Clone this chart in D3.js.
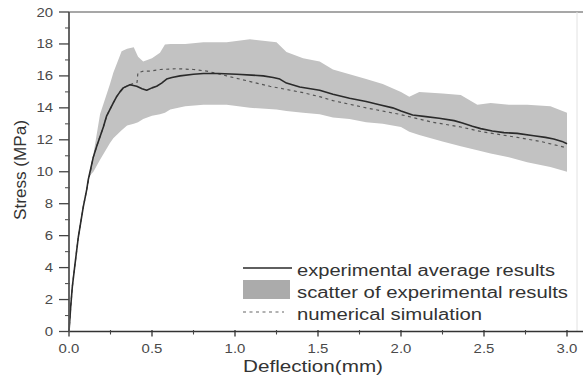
<!DOCTYPE html>
<html>
<head>
<meta charset="utf-8">
<script src="https://cdn.jsdelivr.net/npm/d3@7"></script>
<style>
html,body{margin:0;padding:0;background:#fff;}
svg{display:block;font-family:Arial,"Liberation Sans",sans-serif;}
</style>
</head>
<body>
<svg id="chart" width="583" height="387"></svg>
<script>
// ---- data ----
const avgDeflection = [0,0.01,0.02,0.036,0.056,0.086,0.107,0.116,0.146,0.167,0.207,0.227,0.266,0.287,0.307,0.327,0.367,0.408,0.44,0.468,0.50,0.528,0.558,0.588,0.62,0.669,0.75,0.81,0.9,1.01,1.1,1.17,1.23,1.27,1.31,1.39,1.51,1.59,1.69,1.79,1.87,1.95,2.0,2.07,2.15,2.23,2.32,2.37,2.43,2.48,2.55,2.62,2.70,2.80,2.87,2.92,2.97,3.0];
const avgStress     = [0,1.5,2.8,4.2,5.9,7.8,8.9,9.5,10.9,11.6,12.8,13.5,14.3,14.7,15.0,15.25,15.45,15.35,15.2,15.1,15.25,15.35,15.55,15.8,15.9,16.0,16.1,16.15,16.15,16.1,16.05,16.0,15.9,15.8,15.55,15.3,15.1,14.85,14.6,14.4,14.2,14.0,13.8,13.55,13.45,13.35,13.2,13.05,12.85,12.7,12.55,12.45,12.4,12.25,12.15,12.05,11.9,11.75];

const simDeflection = [0,0.01,0.02,0.036,0.056,0.086,0.107,0.146,0.167,0.207,0.227,0.266,0.287,0.307,0.327,0.367,0.41,0.415,0.45,0.49,0.55,0.65,0.75,0.83,0.95,1.03,1.11,1.21,1.31,1.41,1.51,1.59,1.79,1.99,2.19,2.36,2.49,2.70,2.84,3.0];
const simStress     = [0,1.5,2.8,4.2,5.9,7.8,8.9,10.9,11.6,12.8,13.5,14.3,14.7,15.0,15.25,15.45,15.6,16.2,16.3,16.3,16.4,16.45,16.4,16.3,16.0,15.8,15.6,15.35,15.15,14.95,14.7,14.45,14.0,13.6,13.1,12.8,12.5,12.15,11.9,11.5];

const bandDeflection = [0.12,0.147,0.187,0.247,0.267,0.317,0.35,0.39,0.416,0.447,0.50,0.548,0.578,0.61,0.70,0.81,0.95,1.09,1.25,1.31,1.41,1.51,1.59,1.69,1.79,1.89,2.0,2.05,2.11,2.25,2.36,2.46,2.54,2.65,2.76,2.90,3.0];
const bandUpper      = [9.8,11.1,13.6,15.5,16.2,17.55,17.7,17.8,17.2,16.9,17.1,17.45,17.96,18.0,18.0,18.1,18.1,18.3,18.1,17.5,17.1,16.9,16.4,16.1,15.8,15.5,15.0,14.7,15.0,14.9,14.8,14.2,14.3,14.2,14.2,14.1,13.7];
const bandLower      = [9.7,10.0,10.75,11.8,12.1,12.6,12.9,13.0,13.1,13.3,13.5,13.6,13.7,13.9,14.1,14.2,14.2,14.0,13.9,13.8,13.7,13.6,13.4,13.3,13.1,13.0,12.8,12.5,12.3,11.9,11.6,11.35,11.15,10.9,10.6,10.3,10.0];

const xTicks = [0,0.5,1.0,1.5,2.0,2.5,3.0];
const xTickLabels = ["0.0","0.5","1.0","1.5","2.0","2.5","3.0"];
const xMinorTicks = [0.25,0.75,1.25,1.75,2.25,2.75];
const yTicks = [0,2,4,6,8,10,12,14,16,18,20];
const yMinorTicks = [1,3,5,7,9,11,13,15,17,19];
const legendLabels = ["experimental average results","scatter of experimental results","numerical simulation"];
const xTitle = "Deflection(mm)";
const yTitle = "Stress (MPa)";

// ---- layout ----
const svg = d3.select("#chart");
const x = d3.scaleLinear().domain([0,3]).range([69,567]);
const y = d3.scaleLinear().domain([0,20]).range([331.5,12]);

// frame
svg.append("line").attr("x1",69).attr("x2",583).attr("y1",12).attr("y2",12)
  .attr("stroke","#8a8a8a").attr("stroke-width",1.6);
svg.append("line").attr("x1",577).attr("x2",577).attr("y1",12).attr("y2",331.5)
  .attr("stroke","#e2e2e2").attr("stroke-width",1);

// band
const band = bandDeflection.map((d,i)=>({x:d,u:bandUpper[i],l:bandLower[i]}));
svg.append("path").datum(band)
  .attr("fill","#c2c2c2")
  .attr("d", d3.area().x(d=>x(d.x)).y0(d=>y(d.l)).y1(d=>y(d.u)));

// simulation (dashed)
const sim = simDeflection.map((d,i)=>[d,simStress[i]]);
svg.append("path").datum(sim)
  .attr("fill","none").attr("stroke","#555").attr("stroke-width",1.2)
  .attr("stroke-dasharray","3,3.5")
  .attr("d", d3.line().x(d=>x(d[0])).y(d=>y(d[1])));

// average (solid)
const avg = avgDeflection.map((d,i)=>[d,avgStress[i]]);
svg.append("path").datum(avg)
  .attr("fill","none").attr("stroke","#2a2a2a").attr("stroke-width",1.6)
  .attr("stroke-linejoin","round")
  .attr("d", d3.line().x(d=>x(d[0])).y(d=>y(d[1])));

// axes
const xAxisG = svg.append("g").attr("transform","translate(0,331.5)");
xAxisG.append("line").attr("x1",69).attr("x2",583).attr("stroke","#333").attr("stroke-width",1.5);
xAxisG.selectAll("line.maj").data(xTicks).join("line").attr("class","maj")
  .attr("x1",d=>x(d)).attr("x2",d=>x(d)).attr("y1",-1.5).attr("y2",5)
  .attr("stroke","#333").attr("stroke-width",1.3);
xAxisG.selectAll("line.min").data(xMinorTicks).join("line").attr("class","min")
  .attr("x1",d=>x(d)).attr("x2",d=>x(d)).attr("y1",-1.5).attr("y2",3)
  .attr("stroke","#444").attr("stroke-width",1.1);
xAxisG.selectAll("text").data(xTicks).join("text")
  .attr("transform",d=>`translate(${x(d)},21.5) scale(1.15,1)`)
  .attr("text-anchor","middle").attr("font-size",13).attr("fill","#4a4a4a")
  .text((d,i)=>xTickLabels[i]);

const yAxisG = svg.append("g").attr("transform","translate(69,0)");
yAxisG.append("line").attr("y1",12).attr("y2",332).attr("stroke","#555").attr("stroke-width",1.8);
yAxisG.selectAll("line.maj").data(yTicks).join("line").attr("class","maj")
  .attr("y1",d=>y(d)).attr("y2",d=>y(d)).attr("x1",-10).attr("x2",0)
  .attr("stroke","#444").attr("stroke-width",1.3);
yAxisG.selectAll("line.min").data(yMinorTicks).join("line").attr("class","min")
  .attr("y1",d=>y(d)).attr("y2",d=>y(d)).attr("x1",-4).attr("x2",1)
  .attr("stroke","#555").attr("stroke-width",1.1);
yAxisG.selectAll("text").data(yTicks).join("text")
  .attr("transform",d=>`translate(-16,${y(d)+4.5}) scale(1.15,1)`)
  .attr("text-anchor","end").attr("font-size",13).attr("fill","#4a4a4a")
  .text(d=>d);

// titles
svg.append("text").attr("x",313).attr("y",372).attr("text-anchor","middle")
  .attr("font-size",17).attr("fill","#333")
  .attr("textLength",140).attr("lengthAdjust","spacingAndGlyphs")
  .text(xTitle);
svg.append("text").attr("transform","translate(26,170) rotate(-90)")
  .attr("text-anchor","middle").attr("font-size",17).attr("fill","#333")
  .attr("textLength",100).attr("lengthAdjust","spacingAndGlyphs")
  .text(yTitle);

// legend
const lg = svg.append("g");
const rowY = [276, 298, 320];
const textW = [258, 271, 185];
lg.append("line").attr("x1",243).attr("x2",292).attr("y1",268).attr("y2",268)
  .attr("stroke","#2a2a2a").attr("stroke-width",1.6);
lg.append("rect").attr("x",243).attr("y",280).attr("width",47).attr("height",19)
  .attr("fill","#ababab");
lg.append("line").attr("x1",243).attr("x2",284).attr("y1",312).attr("y2",312)
  .attr("stroke","#666").attr("stroke-width",1.1).attr("stroke-dasharray","3,3.5");
lg.selectAll("text").data(legendLabels).join("text")
  .attr("x",297).attr("y",(d,i)=>rowY[i])
  .attr("font-size",16).attr("fill","#333")
  .attr("textLength",(d,i)=>textW[i]).attr("lengthAdjust","spacingAndGlyphs")
  .text(d=>d);
</script>
</body>
</html>
